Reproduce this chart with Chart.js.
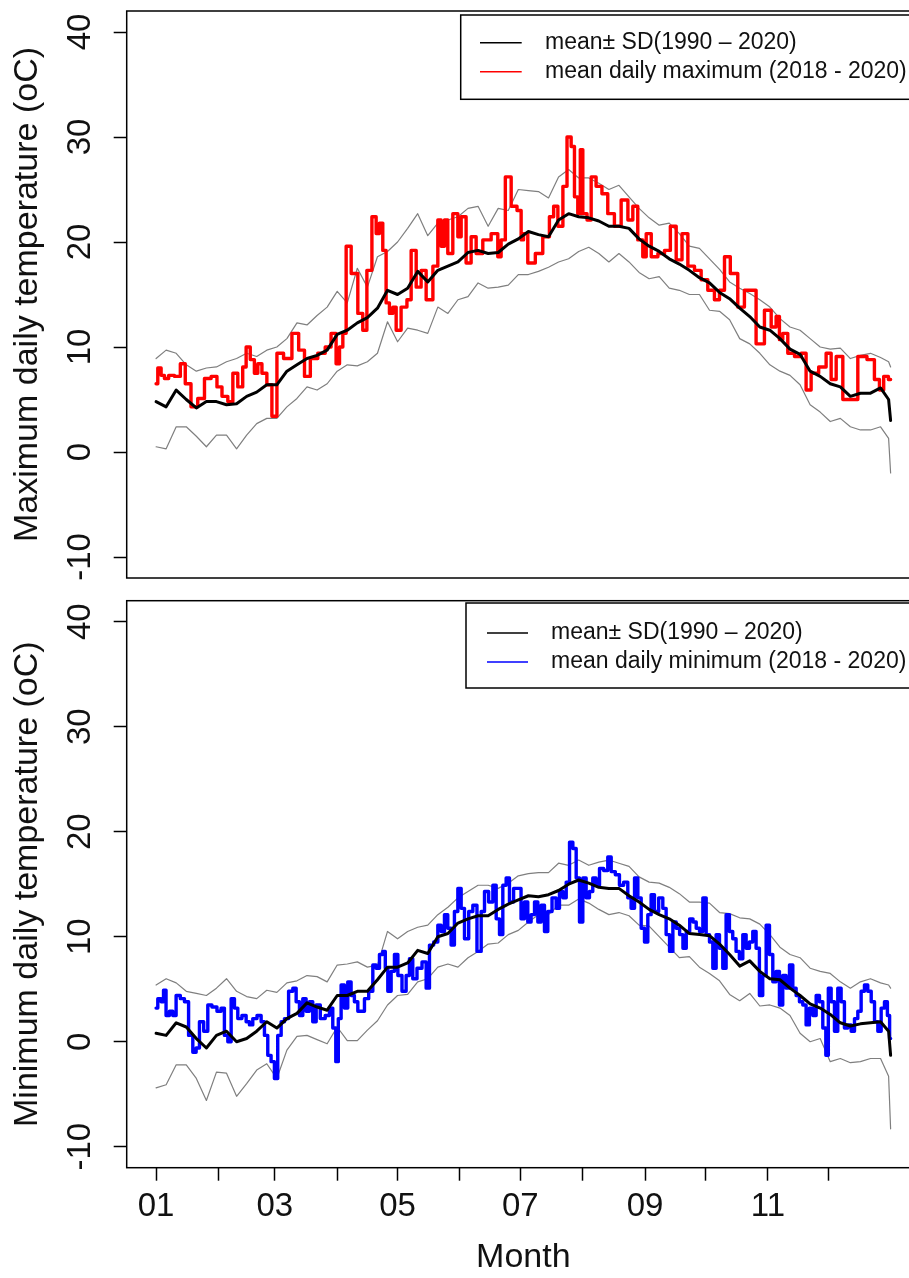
<!DOCTYPE html>
<html>
<head>
<meta charset="utf-8">
<script src="https://cdn.jsdelivr.net/npm/chart.js@4.4.0/dist/chart.umd.min.js"></script>
<style>
  html, body { margin: 0; padding: 0; background: #fff; overflow: hidden; width: 909px; height: 1278px; }
  .panel { position: absolute; left: 0; width: 930px; }
  #panelMax { top: 0; height: 588px; }
  #panelMin { top: 588px; height: 690px; }
</style>
</head>
<body>
<div class="panel" id="panelMax"><canvas id="maxChart" width="930" height="588"></canvas></div>
<div class="panel" id="panelMin"><canvas id="minChart" width="930" height="690"></canvas></div>
<script>
// --- ejes ---
const monthStartDays = [0, 31, 59, 90, 120, 151, 181, 212, 243, 273, 304, 334];
const monthTickLabels = ['01', '', '03', '', '05', '', '07', '', '09', '', '11', ''];
const tempTicks = [-10, 0, 10, 20, 30, 40];

// días de muestreo de la climatología (media y +/- SD, 1990-2020)
const climDays = [0, 5, 10, 15, 20, 25, 30, 35, 40, 45, 50, 55, 60, 65, 70, 75, 80, 85, 90, 95,
  100, 105, 110, 115, 120, 125, 130, 135, 140, 145, 150, 155, 160, 165, 170, 175, 180, 185, 190, 195,
  200, 205, 210, 215, 220, 225, 230, 235, 240, 245, 250, 255, 260, 265, 270, 275, 280, 285, 290, 295,
  300, 305, 310, 315, 320, 325, 330, 335, 340, 345, 350, 355, 360, 364, 365];

// --- temperatura máxima ---
const maxMean = [4.8, 4.3, 5.9, 5.0, 4.2, 4.8, 4.8, 4.5, 4.6, 5.3,
  5.7, 6.4, 6.4, 7.7, 8.3, 8.9, 9.2, 9.7, 11.2, 11.6,
  12.3, 12.8, 13.7, 15.4, 15.0, 15.6, 17.2, 16.2, 17.3, 17.7,
  18.1, 19.0, 19.2, 18.9, 19.0, 19.8, 20.3, 21.0, 20.7, 20.5,
  22.1, 22.7, 22.4, 22.3, 22.0, 21.5, 21.5, 21.3, 20.3, 19.6,
  19.1, 18.4, 17.9, 17.3, 16.6, 16.1, 15.2, 14.6, 13.7, 12.9,
  11.9, 11.6, 10.8, 9.8, 9.3, 7.7, 7.2, 6.5, 6.2, 5.3,
  5.6, 5.6, 6.1, 5.0, 3.0];
const maxUpper = [8.9, 9.7, 9.4, 8.3, 7.7, 8.0, 8.1, 8.6, 8.9, 9.4,
  9.1, 9.7, 10.0, 10.8, 12.3, 12.1, 13.0, 13.8, 15.3, 14.2,
  17.5, 15.7, 18.6, 19.1, 20.0, 21.3, 22.7, 20.6, 21.8, 22.1,
  22.4, 23.2, 23.4, 21.5, 23.2, 23.0, 25.0, 24.9, 24.8, 24.2,
  26.2, 26.9, 26.1, 26.1, 25.6, 25.0, 25.4, 24.3, 23.2, 22.3,
  21.6, 21.8, 20.8, 19.6, 19.4, 18.4, 17.4, 16.2, 15.6, 15.1,
  14.5, 13.8, 12.7, 11.9, 11.6, 10.8, 10.0, 9.8, 9.9, 8.9,
  9.2, 9.4, 9.0, 8.6, 8.1];
const maxLower = [0.5, 0.3, 2.4, 2.4, 1.5, 0.5, 1.6, 1.6, 0.3, 1.6,
  2.7, 3.2, 3.2, 4.3, 5.1, 6.2, 5.9, 6.5, 7.7, 8.3,
  8.2, 8.6, 9.4, 12.4, 10.5, 11.8, 11.6, 11.3, 13.8, 13.2,
  14.5, 14.8, 16.1, 15.6, 15.7, 15.9, 16.9, 16.9, 17.2, 17.6,
  18.1, 18.4, 19.1, 19.5, 18.9, 18.1, 18.9, 18.1, 17.1, 16.5,
  16.7, 15.6, 15.4, 15.0, 15.0, 13.5, 13.4, 12.6, 10.8, 10.3,
  9.4, 8.3, 7.7, 7.3, 6.4, 4.5, 3.8, 2.9, 3.2, 2.4,
  2.1, 2.1, 2.4, 1.3, -2.0];

// media diaria de la máxima 2018-2020
const maxRedDays = [0, 1.7, 3.3, 5, 7.5, 10.8, 13.3, 15.7, 19, 22.4,
  25.7, 29, 31.5, 34, 37.3, 39, 42.2, 43.9, 45.6, 48,
  49.7, 51.4, 53.8, 56.3, 58.8, 61.3, 65.4, 69.6, 72.1, 75.4,
  77.9, 82.8, 85.3, 88.6, 90.3, 92, 93.6, 95.3, 98.6, 101.9,
  103.5, 106, 108.5, 110.2, 111.8, 113.5, 115.1, 116.8, 118.5, 120.1,
  123.4, 125.9, 127.6, 130.9, 132.5, 135.9, 139.2, 140.8, 142.5, 144.1,
  145.8, 149.1, 150.8, 152.4, 155.7, 157.4, 160.7, 164, 169, 170.6,
  172.3, 174.8, 178.1, 180.6, 182.2, 183, 186.4, 190.5, 193.8, 197.1,
  198, 201.3, 203, 205.4, 207.1, 208.7, 210.4, 211.2, 212.9, 215.4,
  217, 220.3, 222.8, 226.1, 229.4, 232.8, 236.1, 237.7, 241, 242.7,
  244.4, 247.7, 251, 254.3, 256.8, 260.1, 262.6, 265.9, 269.2, 272.5,
  275.8, 279.1, 280.8, 284.1, 286.6, 291.5, 293.2, 295.7, 300.6, 304,
  307.3, 308.9, 310.6, 312.2, 315.6, 318.9, 322.2, 323.8, 327.2, 331.3,
  334.6, 336.3, 339.6, 342.9, 346.2, 351.2, 355.3, 358.6, 360.3, 362.8,
  365];
const maxRedTemps = [6.5, 8.0, 7.3, 7.0, 7.3, 7.2, 8.4, 6.5, 4.3, 5.1,
  7.0, 7.2, 6.2, 5.3, 4.8, 7.5, 6.2, 8.1, 10.0, 8.8,
  7.5, 8.4, 7.5, 6.4, 3.4, 9.4, 8.9, 11.3, 9.7, 7.2,
  8.9, 9.4, 10.0, 11.3, 8.4, 10.0, 11.3, 19.6, 17.0, 13.2,
  11.6, 17.3, 22.4, 20.8, 21.8, 19.2, 14.2, 13.2, 13.8, 11.6,
  13.8, 14.5, 19.2, 15.7, 17.3, 14.5, 17.7, 22.1, 19.6, 22.1,
  18.9, 22.7, 20.5, 22.4, 18.0, 20.5, 18.9, 20.2, 20.8, 18.6,
  20.2, 26.2, 23.4, 23.0, 20.2, 20.8, 18.0, 18.9, 20.5, 22.4,
  23.4, 21.5, 25.3, 30.0, 29.1, 24.3, 22.7, 28.8, 22.7, 22.1,
  26.2, 25.3, 24.6, 22.7, 21.5, 24.0, 22.1, 23.4, 20.2, 18.6,
  20.8, 18.6, 18.9, 19.2, 21.5, 18.3, 20.8, 17.7, 17.3, 16.4,
  15.4, 14.5, 15.4, 18.6, 17.0, 13.8, 15.4, 15.4, 10.3, 13.5,
  11.9, 12.9, 10.7, 11.3, 9.4, 9.1, 9.4, 5.9, 7.5, 8.1,
  9.4, 6.9, 9.1, 5.0, 5.0, 9.1, 8.8, 6.9, 5.9, 7.2,
  6.9];

// --- temperatura mínima ---
const minMean = [0.8, 0.6, 1.8, 1.4, 0.3, -0.6, 0.6, 1.0, 0.0, 0.3,
  1.0, 1.9, 1.3, 2.2, 2.7, 3.7, 3.3, 3.0, 4.4, 4.4,
  4.8, 4.8, 5.9, 7.1, 7.1, 7.5, 8.7, 8.4, 10.0, 10.3,
  11.3, 11.7, 12.0, 12.0, 12.6, 13.1, 13.5, 13.9, 13.8, 14.0,
  14.4, 15.0, 15.4, 15.1, 14.7, 14.6, 14.6, 13.9, 13.3, 12.6,
  12.1, 11.7, 11.1, 10.3, 10.2, 10.1, 9.3, 8.3, 7.2, 7.7,
  6.7, 6.0, 5.9, 5.1, 4.4, 3.6, 3.2, 2.6, 1.8, 1.5,
  1.7, 1.8, 1.9, 1.0, -1.3];
const minUpper = [5.4, 6.0, 5.6, 4.8, 4.6, 4.4, 5.1, 6.0, 4.8, 4.3,
  4.1, 4.9, 4.7, 5.6, 5.8, 6.3, 6.2, 5.7, 7.3, 7.4,
  7.6, 7.1, 7.3, 10.5, 9.8, 10.5, 10.9, 11.1, 12.1, 12.8,
  13.7, 14.3, 14.9, 14.9, 14.6, 15.1, 15.8, 16.0, 16.1, 16.1,
  17.0, 16.8, 17.3, 16.8, 17.1, 17.3, 17.0, 16.7, 15.7, 15.2,
  15.1, 14.7, 14.1, 13.3, 13.3, 13.2, 12.3, 12.2, 11.8, 11.7,
  11.2, 10.2, 9.0, 8.3, 8.0, 7.0, 6.7, 6.5, 5.7, 5.1,
  5.7, 6.0, 5.6, 5.4, 5.1];
const minLower = [-4.4, -4.1, -2.2, -2.2, -3.5, -5.6, -2.9, -3.0, -5.2, -4.0,
  -2.7, -2.1, -3.5, -0.8, 0.5, 0.6, 0.2, -0.2, 1.4, 0.1,
  0.1, 1.1, 2.0, 3.5, 4.4, 4.5, 5.7, 6.0, 7.1, 7.4,
  7.1, 8.0, 8.6, 9.3, 9.4, 10.2, 10.6, 11.4, 12.1, 12.1,
  13.0, 13.0, 13.6, 13.2, 12.6, 12.1, 12.3, 12.0, 11.1, 11.0,
  10.0, 9.0, 8.0, 8.1, 7.1, 6.5, 5.8, 4.5, 3.9, 4.6,
  3.4, 3.5, 3.2, 2.5, 0.8, 0.0, 0.3, -1.9, -1.6, -2.0,
  -1.9, -1.6, -1.6, -3.3, -8.3];

// media diaria de la mínima 2018-2020
const minBlueDays = [0, 1.7, 3.3, 4.1, 5.8, 7.5, 9.1, 10.8, 13.3, 14.9,
  17.4, 19.1, 20.7, 22.4, 24.9, 26.5, 29, 31.5, 33.1, 34.8,
  36.5, 38.1, 39.8, 41.4, 43.9, 45.6, 47.2, 48.9, 51.4, 53,
  54.7, 56.3, 58, 59.6, 61.3, 63, 64.6, 67.1, 68.8, 70.4,
  72.1, 73.7, 75.4, 77, 78.7, 80.4, 82.8, 85.3, 87, 88.6,
  90, 91.1, 92.8, 94.4, 96.1, 97.7, 99.4, 101.1, 102.7, 104.4,
  106.9, 108.5, 110.2, 111.8, 113.5, 114.3, 116, 117.6, 119.3, 121,
  123.4, 125.1, 126.7, 128.4, 130.9, 133.4, 135, 136.7, 139.2, 140.8,
  142.5, 144.1, 145.8, 147.4, 149.1, 150.8, 152.4, 154.1, 156.6, 158.2,
  160.7, 162.4, 164, 166.5, 168.2, 169.8, 171.5, 173.1, 174.8, 176.4,
  178.9, 180.5, 182.2, 183.9, 185.5, 187.2, 188.9, 190.5, 192.2, 193.8,
  195.5, 198, 199.6, 201.3, 203, 204.6, 206.3, 207.9, 209.6, 211.2,
  212.9, 214.5, 216.2, 217.8, 219.5, 221.2, 223.6, 225.3, 227, 229.4,
  231.1, 233.6, 235.2, 236.9, 238.6, 240.2, 241.9, 243.5, 245.2, 246.8,
  248.5, 251, 252.6, 254.3, 256, 257.6, 259.3, 261, 262.6, 264.3,
  266, 267.6, 269.2, 270.9, 272.5, 274.2, 275.8, 277.5, 279.1, 280.8,
  282.4, 284.1, 285.7, 287.4, 289, 290.7, 292.4, 294, 295.7, 297.3,
  299, 300.6, 302.3, 304, 305.6, 307.3, 308.9, 310.6, 312.2, 313.9,
  315.6, 317.2, 318.9, 320.5, 322.2, 323.8, 325.5, 327.2, 328.8, 330.5,
  332.1, 333.5, 334.6, 336.3, 337.9, 339.6, 341.2, 342.9, 344.6, 346.2,
  347.9, 349.5, 351.2, 352.8, 354.5, 356.2, 357.8, 359.5, 361.1, 362.8,
  364, 365];
const minBlueTemps = [3.2, 4.1, 3.8, 4.9, 2.5, 2.9, 2.5, 4.4, 4.1, 3.8,
  0.6, -1.0, -0.6, 1.9, 1.0, 3.5, 3.3, 2.9, 3.2, 0.6,
  0.0, 4.1, 3.2, 2.2, 2.5, 1.9, 1.6, 2.2, 2.5, 1.9,
  0.6, -1.3, -1.9, -3.5, 0.6, 1.9, 2.2, 4.8, 5.1, 3.8,
  2.5, 4.1, 2.9, 3.8, 1.9, 3.5, 2.2, 2.5, 3.2, 1.3,
  -1.9, 2.2, 5.4, 3.2, 5.7, 4.4, 3.8, 2.9, 2.9, 4.1,
  4.8, 7.3, 7.0, 8.3, 8.6, 7.0, 4.8, 6.7, 8.3, 6.3,
  4.8, 6.3, 7.9, 6.0, 7.0, 7.6, 5.1, 9.2, 9.5, 11.1,
  10.5, 12.1, 10.8, 9.2, 12.4, 14.6, 12.7, 9.8, 12.4, 13.0,
  8.6, 12.4, 14.3, 13.3, 14.9, 11.7, 10.2, 14.9, 15.6, 13.3,
  14.6, 14.6, 11.7, 13.3, 11.4, 12.1, 13.3, 11.4, 13.0, 10.5,
  12.4, 13.7, 12.7, 14.3, 13.7, 15.2, 19.0, 18.4, 15.6, 11.4,
  15.6, 13.7, 14.3, 15.6, 14.9, 16.5, 16.3, 17.6, 16.2, 15.9,
  14.9, 15.2, 13.7, 12.7, 15.6, 13.7, 10.8, 9.5, 12.1, 14.0,
  12.4, 13.7, 12.7, 10.2, 8.6, 11.4, 10.8, 10.2, 8.9, 10.5,
  11.7, 11.4, 10.8, 10.5, 13.7, 10.2, 9.5, 7.0, 10.2, 8.9,
  7.0, 12.1, 10.5, 9.8, 8.6, 7.9, 10.2, 8.9, 9.5, 10.5,
  8.9, 4.4, 6.3, 11.1, 8.3, 5.7, 6.7, 3.5, 6.3, 5.1,
  7.3, 5.1, 4.4, 3.8, 3.5, 1.6, 3.2, 2.5, 4.4, 3.8,
  1.3, -1.3, 5.1, 3.8, 1.0, 5.1, 3.8, 1.3, 1.6, 1.0,
  2.2, 2.9, 4.8, 5.4, 4.8, 3.8, 1.9, 1.0, 3.2, 3.8,
  2.5, 0.3];

const FONT = '"Liberation Sans", Arial, sans-serif';
const GREY = '#7f7f7f';

function toPoints(xs, ys) {
    return xs.map((x, i) => ({ x: x, y: ys[i] }));
}

// marco alrededor del área de dibujo (estilo R)
const boxPlugin = {
    id: 'plotBox',
    afterDraw(chart) {
        const { ctx, chartArea: a } = chart;
        ctx.save();
        ctx.strokeStyle = '#000';
        ctx.lineWidth = 1.5;
        ctx.strokeRect(a.left, a.top, a.right - a.left, a.bottom - a.top);
        ctx.restore();
    }
};

// leyenda dentro del gráfico, arriba a la derecha
const legendBoxPlugin = {
    id: 'legendBox',
    afterDraw(chart, args, o) {
        const ctx = chart.ctx;
        ctx.save();
        ctx.fillStyle = '#fff';
        ctx.fillRect(o.x, o.y, o.w, o.h);
        ctx.strokeStyle = '#000';
        ctx.lineWidth = 1.5;
        ctx.strokeRect(o.x, o.y, o.w, o.h);
        ctx.font = o.fontSize + 'px ' + FONT;
        ctx.textBaseline = 'middle';
        ctx.textAlign = 'left';
        for (let i = 0; i < o.texts.length; i++) {
            const yy = o.y + o.firstRow + i * o.rowGap;
            ctx.strokeStyle = o.colors[i];
            ctx.lineWidth = 1.5;
            ctx.beginPath();
            ctx.moveTo(o.x + o.lineStart, yy);
            ctx.lineTo(o.x + o.lineEnd, yy);
            ctx.stroke();
            ctx.fillStyle = '#111';
            ctx.fillText(o.texts[i], o.x + o.textStart, yy);
        }
        ctx.restore();
    }
};

function lineSet(label, pts, color, width, stepped) {
    return {
        label: label,
        data: pts,
        borderColor: color,
        borderWidth: width,
        pointRadius: 0,
        tension: 0,
        stepped: stepped || false,
        fill: false,
        borderJoinStyle: 'round',
        borderCapStyle: 'round'
    };
}

function yAxis(titleText) {
    return {
        type: 'linear',
        min: -12,
        max: 42,
        afterBuildTicks: s => { s.ticks = tempTicks.map(v => ({ value: v })); },
        afterFit: s => { s.width = 126.7; s.paddingTop = 0; s.paddingBottom = 0; },
        border: { display: false },
        grid: { drawOnChartArea: false, drawTicks: true, tickLength: 13, tickColor: '#000', tickWidth: 1.5 },
        ticks: {
            color: '#111', autoSkip: false, minRotation: 90, maxRotation: 90,
            crossAlign: 'center', padding: 9,
            font: { family: FONT, size: 33 }
        },
        title: {
            display: true, text: titleText, color: '#111',
            font: { family: FONT, size: 34 },
            padding: { top: 7, bottom: 0 }
        }
    };
}

function baseOptions() {
    return {
        responsive: false,
        animation: false,
        events: [],
        plugins: { legend: { display: false }, tooltip: { enabled: false } }
    };
}

document.addEventListener('DOMContentLoaded', function() {
    // --- Panel superior: temperatura máxima ---
    const optMax = baseOptions();
    optMax.layout = { padding: { left: 0, top: 11, right: 10, bottom: 10 } };
    optMax.scales = {
        x: { type: 'linear', min: -14.6, max: 379.6, display: false },
        y: yAxis('Maximum daily temperature (oC)')
    };
    optMax.plugins.legendBox = {
        x: 460.7, y: 15, w: 520, h: 84.3,
        firstRow: 27.7, rowGap: 29, lineStart: 19.3, lineEnd: 61, textStart: 84.3, fontSize: 23,
        texts: ['mean\u00B1 SD(1990 \u2013 2020)', 'mean daily maximum (2018 - 2020)'],
        colors: ['#000', '#ff0000']
    };
    new Chart(document.getElementById('maxChart'), {
        type: 'line',
        data: {
            datasets: [
                lineSet('mean (1990-2020)', toPoints(climDays, maxMean), '#000', 3),
                lineSet('mean daily maximum (2018 - 2020)', toPoints(maxRedDays, maxRedTemps), '#ff0000', 3.4, 'middle'),
                lineSet('mean + SD', toPoints(climDays, maxUpper), GREY, 1.2),
                lineSet('mean - SD', toPoints(climDays, maxLower), GREY, 1.2)
            ]
        },
        options: optMax,
        plugins: [boxPlugin, legendBoxPlugin]
    });

    // --- Panel inferior: temperatura mínima ---
    const optMin = baseOptions();
    optMin.layout = { padding: { left: 0, top: 12.7, right: 10, bottom: 0 } };
    optMin.scales = {
        x: {
            type: 'linear', min: -14.6, max: 379.6,
            afterBuildTicks: s => { s.ticks = monthStartDays.map(v => ({ value: v })); },
            afterFit: s => { s.height = 110.3; s.paddingLeft = 0; s.paddingRight = 0; },
            border: { display: false },
            grid: { drawOnChartArea: false, drawTicks: true, tickLength: 13, tickColor: '#000', tickWidth: 1.5 },
            ticks: {
                color: '#111', autoSkip: false, maxRotation: 0, padding: 6,
                font: { family: FONT, size: 33 },
                callback: (v, i) => monthTickLabels[i]
            },
            title: {
                display: true, text: 'Month', color: '#111',
                font: { family: FONT, size: 34 },
                padding: { top: 0, bottom: 0 }
            }
        },
        y: yAxis('Minimum daily temperature (oC)')
    };
    optMin.plugins.legendBox = {
        x: 466, y: 15, w: 520, h: 85,
        firstRow: 30, rowGap: 29, lineStart: 21, lineEnd: 62, textStart: 85, fontSize: 23,
        texts: ['mean\u00B1 SD(1990 \u2013 2020)', 'mean daily minimum (2018 - 2020)'],
        colors: ['#000', '#0000ff']
    };
    new Chart(document.getElementById('minChart'), {
        type: 'line',
        data: {
            datasets: [
                lineSet('mean (1990-2020)', toPoints(climDays, minMean), '#000', 3),
                lineSet('mean daily minimum (2018 - 2020)', toPoints(minBlueDays, minBlueTemps), '#0000ff', 3.4, 'middle'),
                lineSet('mean + SD', toPoints(climDays, minUpper), GREY, 1.2),
                lineSet('mean - SD', toPoints(climDays, minLower), GREY, 1.2)
            ]
        },
        options: optMin,
        plugins: [boxPlugin, legendBoxPlugin]
    });
});
</script>
</body>
</html>
